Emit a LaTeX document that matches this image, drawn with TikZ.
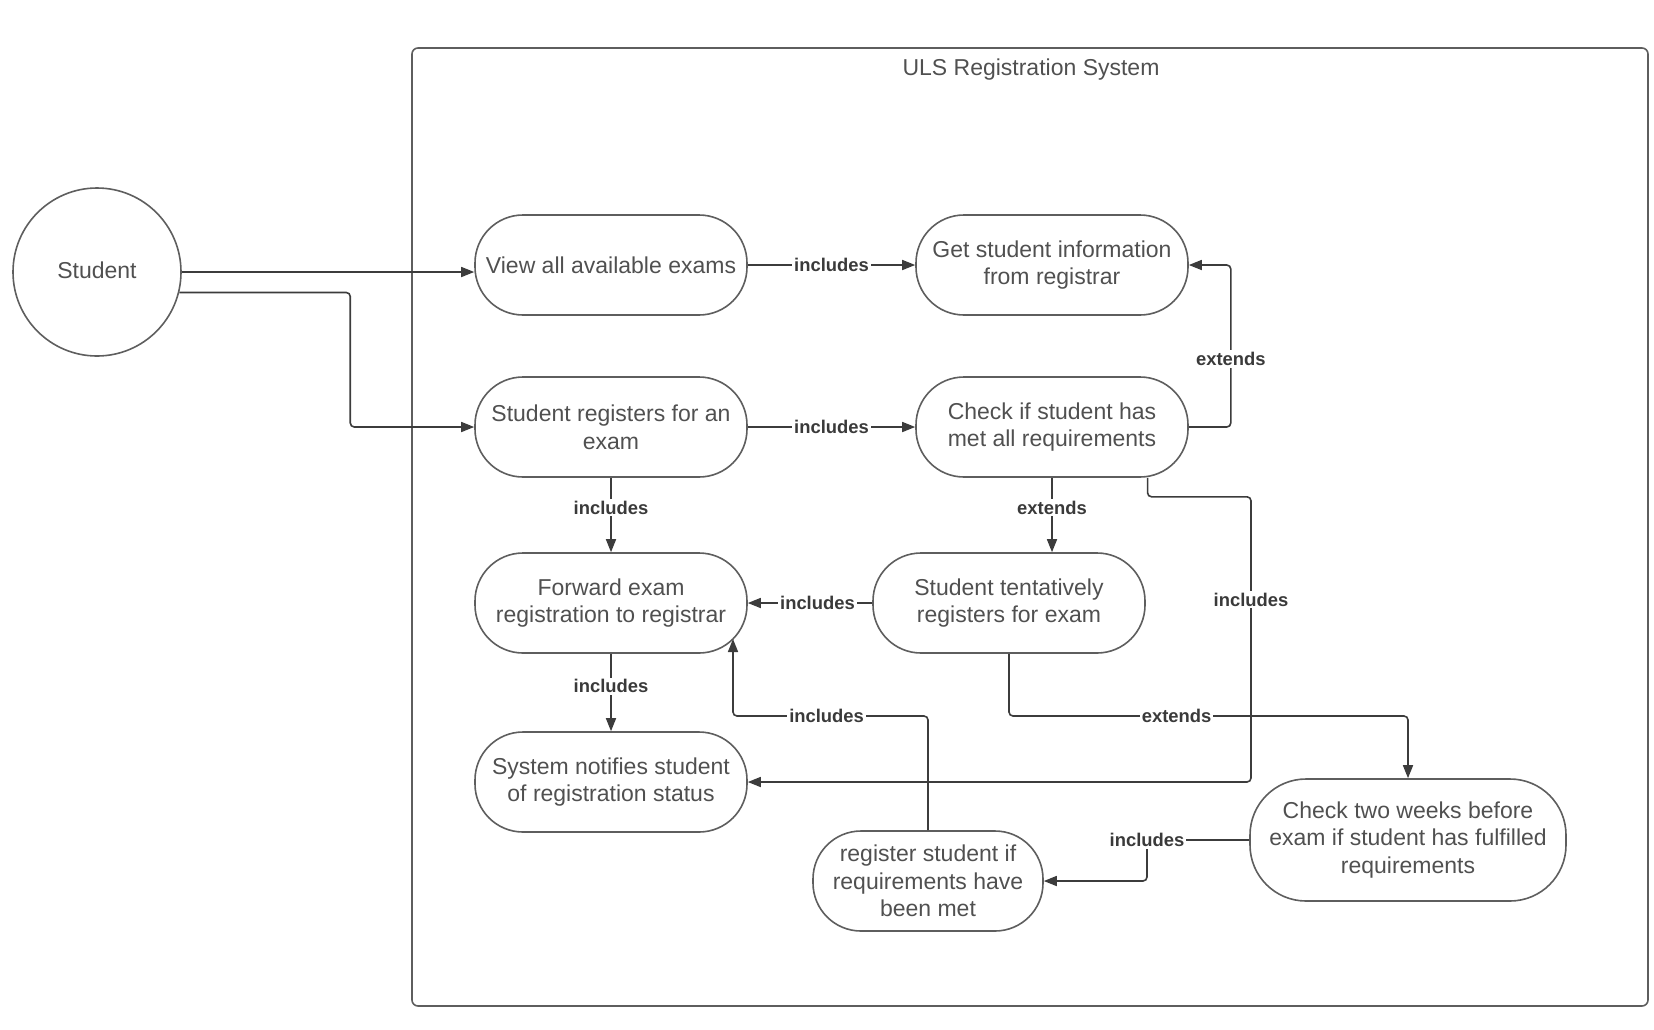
\documentclass[tikz,border=0pt]{standalone}
\usepackage{fontspec}
\setmainfont{Liberation Sans}
\usetikzlibrary{arrows.meta}
\definecolor{linec}{HTML}{3C3C3C}
\definecolor{boxc}{HTML}{5E5E5E}
\definecolor{txtc}{HTML}{505050}
\definecolor{lblc}{HTML}{3A3A3A}
\begin{document}
\begin{tikzpicture}[x=0.5pt,y=-0.5pt,
  uc/.style={draw=boxc, line width=0.8pt, rounded corners=24pt, minimum width=136pt,
    minimum height=50pt, align=center, text=txtc, font=\fontsize{11.5}{13.8}\selectfont, inner sep=2pt},
  conn/.style={draw=linec, line width=0.8pt, rounded corners=2pt, -{Triangle[length=6.5pt,width=5pt]}},
  lbl/.style={fill=white, text=lblc, font=\fontsize{9.2}{11}\selectfont\bfseries, inner sep=1pt, rounded corners=0pt},
]
\useasboundingbox (0,0) rectangle (1654,1029);
% system frame
\draw[draw=boxc, line width=0.8pt, rounded corners=3pt] (412,48) rectangle (1648,1006);
\node[text=txtc, font=\fontsize{11.5}{13.8}\selectfont] (title) at (1031,70) {ULS Registration System};

% actor
\node[circle, draw=boxc, line width=0.8pt, minimum size=84pt, text=txtc,
  font=\fontsize{11.5}{13.8}\selectfont] (student) at (97,272) {\raisebox{2pt}{Student}};

% use cases
\node[uc] (view)   at (611,265)  {View all available exams};
\node[uc] (get)    at (1052,265) {Get student information\\from registrar};
\node[uc] (reg)    at (611,427)  {Student registers for an\\exam};
\node[uc] (check)  at (1052,427) {Check if student has\\met all requirements};
\node[uc] (fwd)    at (611,603)  {Forward exam\\registration to registrar};
\node[uc] (tent)   at (1009,603) {Student tentatively\\registers for exam};
\node[uc] (notify) at (611,782)  {System notifies student\\of registration status};
\node[uc, minimum width=115pt] (regif) at (928,881) {register student if\\requirements have\\been met};
\node[uc, minimum width=158pt, minimum height=61pt, rounded corners=28pt] (two) at (1408,840)
  {Check two weeks before\\exam if student has fulfilled\\requirements};

\coordinate (fwdin) at (733,639);
\coordinate (k1) at (1251,782);
\coordinate (k2) at (1408,716);
\coordinate (k3) at (1147,881);

% connectors
\draw[conn] (student.east) -- (student.east -| view.west);
\draw[conn] (student.-14) -- ++(171,0) |- (reg.west);
\draw[conn] (view.east) -- node[lbl]{includes} (get.west);
\draw[conn] (reg.east) -- node[lbl]{includes} (check.west);
\draw[conn] (check.east) -- ++(42,0) |- node[lbl,pos=0.21]{extends} (get.east);
\draw[conn] (check.south) -- node[lbl,pos=0.4]{extends} (check.south |- tent.north);
\draw[conn] (check.-28.8) -- ++(0,19) -| node[lbl,pos=0.68]{includes} (k1) -- (notify.east);
\draw[conn] (reg.south) -- node[lbl,pos=0.4]{includes} (fwd.north);
\draw[conn] (tent.west) -- node[lbl,pos=0.44]{includes} (fwd.east);
\draw[conn] (fwd.south) -- node[lbl,pos=0.42]{includes} (notify.north);
\draw[conn] (regif.north) |- node[lbl,pos=0.76]{includes} (fwdin |- 0,716) -- (fwdin);
\draw[conn] (tent.south) |- node[lbl,pos=0.71]{extends} (k2) -- (two.north);
\draw[conn] (two.west) -| node[lbl,pos=0.5]{includes} (k3) -- (regif.east);
\end{tikzpicture}
\end{document}
